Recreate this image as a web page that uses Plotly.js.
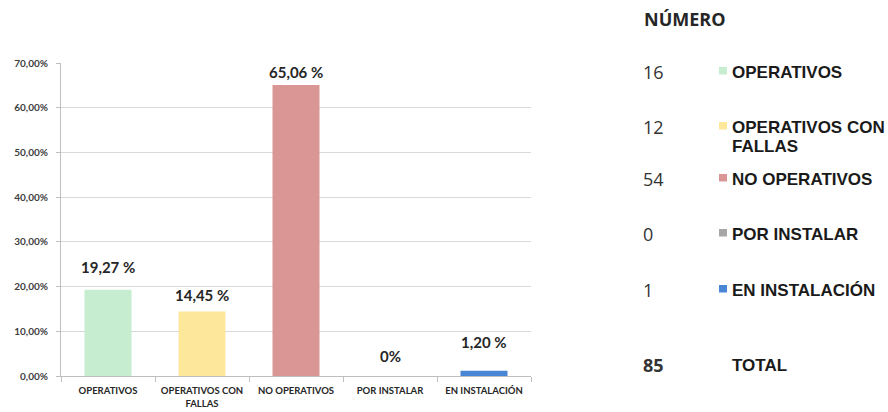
<!DOCTYPE html>
<html>
<head>
<meta charset="utf-8">
<script src="https://cdn.plot.ly/plotly-3.0.1.min.js"></script>
<style>html,body{margin:0;padding:0;background:#fff;}#chart{width:888px;height:412px;}</style>
</head>
<body>
<div id="chart"></div>
<script>
// ---- data ----
const categories = ['OPERATIVOS', 'OPERATIVOS CON FALLAS', 'NO OPERATIVOS', 'POR INSTALAR', 'EN INSTALACIÓN'];
const tickLabels = ['OPERATIVOS', 'OPERATIVOS CON<br>FALLAS', 'NO OPERATIVOS', 'POR INSTALAR', 'EN INSTALACIÓN'];
const percentages = [19.27, 14.45, 65.06, 0, 1.20];
const valueLabels = ['19,27 %', '14,45 %', '65,06 %', '0%', '1,20 %'];
const counts = [16, 12, 54, 0, 1];
const total = 85;
const legendLabels = ['OPERATIVOS', 'OPERATIVOS CON<br>FALLAS', 'NO OPERATIVOS', 'POR INSTALAR', 'EN INSTALACIÓN'];
const yTickVals = [0, 10, 20, 30, 40, 50, 60, 70];
const yTickText = ['0,00%', '10,00%', '20,00%', '30,00%', '40,00%', '50,00%', '60,00%', '70,00%'];

// ---- style ----
const colors = ['#C6EDCF', '#FDE79B', '#D99694', '#A6A6A6', '#4A86D6'];
const labelShift = [12, 5, 2, 9, 18];
const rowY = [72, 127, 179, 234, 290];   // pixel rows of the side table
const totalY = 365;
const plotL = 61, plotR = 531, plotT = 63, plotB = 376;
const px = x => (x - plotL) / (plotR - plotL);
const py = y => (plotB - y) / (plotB - plotT);

const trace = {
  type: 'bar',
  x: categories,
  y: percentages,
  marker: { color: colors, line: { width: 0 } },
  hoverinfo: 'none',
  showlegend: false
};

const annotations = [];
categories.forEach((c, i) => {
  annotations.push({
    x: c, y: percentages[i], xref: 'x', yref: 'y',
    text: valueLabels[i], showarrow: false,
    yanchor: 'bottom', yshift: labelShift[i],
    font: { family: 'Lato', size: 15, color: '#262626', weight: 'bold' }
  });
});

const numFont = { family: 'Open Sans', size: 18, color: '#333333' };
const lblFont = { family: 'Liberation Sans', size: 17, color: '#1a1a1a' };

// side table
annotations.push({
  x: px(642), y: py(19), xref: 'paper', yref: 'paper', xanchor: 'left', yanchor: 'middle',
  text: '<b>NÚMERO</b>', showarrow: false,
  font: { family: 'Open Sans', size: 18, color: '#262626' }
});
const shapes = [];
counts.forEach((n, i) => {
  annotations.push({
    x: px(641), y: py(rowY[i]), xref: 'paper', yref: 'paper', xanchor: 'left', yanchor: 'middle',
    text: String(n), showarrow: false, font: numFont
  });
  legendLabels[i].split('<br>').forEach((line, k) => {
    annotations.push({
      x: px(730), y: py(rowY[i] + k * 19), xref: 'paper', yref: 'paper', xanchor: 'left', yanchor: 'middle',
      text: '<b>' + line + '</b>', showarrow: false, font: lblFont
    });
  });
  shapes.push({
    type: 'rect', xref: 'paper', yref: 'paper',
    x0: px(719), x1: px(727), y0: py(rowY[i] + 2.5), y1: py(rowY[i] - 5),
    fillcolor: colors[i], line: { width: 0 }
  });
});
annotations.push({
  x: px(641), y: py(totalY), xref: 'paper', yref: 'paper', xanchor: 'left', yanchor: 'middle',
  text: '<b>' + total + '</b>', showarrow: false, font: numFont
});
annotations.push({
  x: px(730), y: py(totalY), xref: 'paper', yref: 'paper', xanchor: 'left', yanchor: 'middle',
  text: '<b>TOTAL</b>', showarrow: false, font: lblFont
});

const layout = {
  width: 888, height: 412,
  margin: { l: plotL, r: 888 - plotR, t: plotT, b: 412 - plotB, pad: 0 },
  paper_bgcolor: '#ffffff', plot_bgcolor: '#ffffff',
  bargap: 0.5,
  showlegend: false,
  xaxis: {
    type: 'category',
    tickvals: categories, ticktext: tickLabels,
    tickangle: 0, automargin: false,
    showline: true, linecolor: '#bfbfbf', linewidth: 1,
    ticks: 'outside', tickson: 'boundaries', ticklen: 5, tickcolor: '#bfbfbf',
    ticklabelstandoff: 6,
    showgrid: false, fixedrange: true,
    tickfont: { family: 'Lato', size: 9.5, color: '#262626', weight: 'bold' }
  },
  yaxis: {
    range: [0, 70],
    tickvals: yTickVals, ticktext: yTickText,
    automargin: false,
    showline: true, linecolor: '#bfbfbf', linewidth: 1,
    ticks: 'outside', ticklen: 4, tickcolor: '#bfbfbf',
    ticklabelstandoff: 6,
    showgrid: true, gridcolor: '#d9d9d9', gridwidth: 1,
    zeroline: false, fixedrange: true,
    tickfont: { family: 'Lato', size: 10, color: '#404040', weight: 'bold' }
  },
  annotations: annotations,
  shapes: shapes
};

Plotly.newPlot('chart', [trace], layout, { displayModeBar: false, staticPlot: true });
</script>
</body>
</html>
